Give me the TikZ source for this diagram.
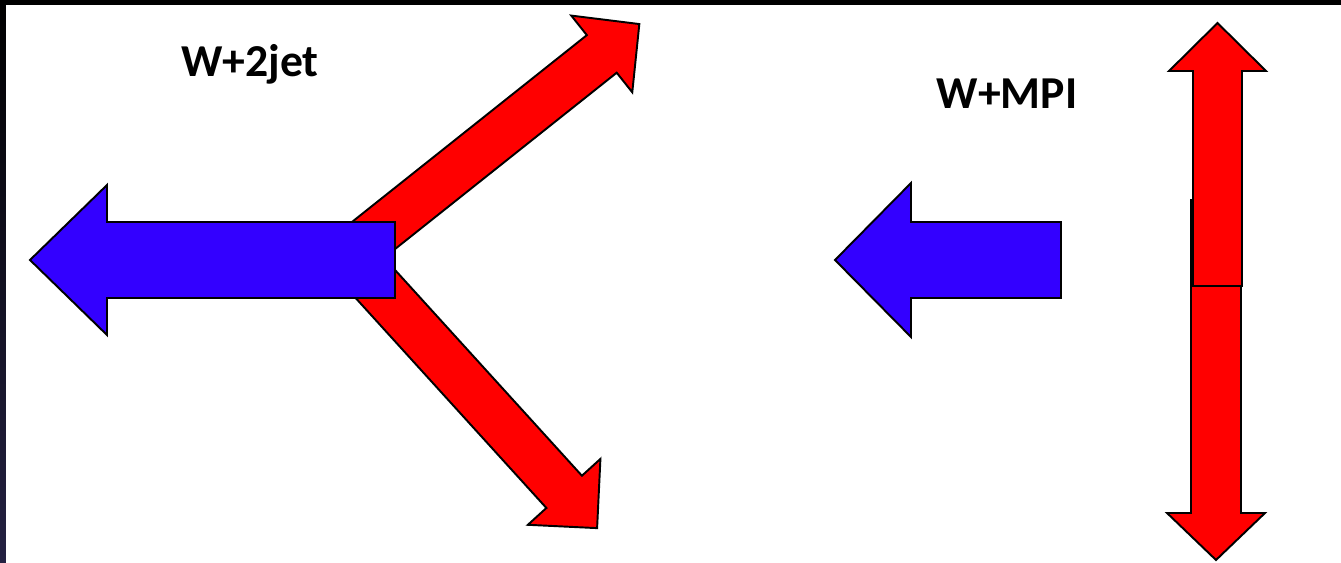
\documentclass[tikz,border=0pt]{standalone}
\usepackage{fontspec}
\newfontfamily\lblfont{Carlito}
\usetikzlibrary{calc}

\definecolor{arrowred}{RGB}{255,0,0}
\definecolor{arrowblue}{RGB}{51,0,255}
\definecolor{frameblue}{RGB}{36,33,66}

% block arrow along +x: style, length, shaft half width, head half width, head length
\newcommand{\blockarrow}[5]{%
  \draw[#1] (0,-#3) -- ({#2-#5},-#3) -- ({#2-#5},-#4) -- (#2,0)
    -- ({#2-#5},#4) -- ({#2-#5},#3) -- (0,#3) -- cycle;}

\tikzset{
  fat/.style={line width=1.1pt, line join=miter, draw=black},
  redarrow/.style={fat, fill=arrowred},
  bluearrow/.style={fat, fill=arrowblue},
  lbl/.style={font=\lblfont\bfseries\fontsize{26}{30}\selectfont, anchor=base, inner sep=0pt}
}

\begin{document}
\begin{tikzpicture}[x=0.02cm, y=-0.02cm]
  \useasboundingbox (0,0) rectangle (1341,563);
  % frame
  \fill[black] (0,0) rectangle (1341,5);
  \shade[top color=black, bottom color=frameblue] (0,0) rectangle (6,563);
  \fill[white] (6,5) rectangle (1341,563);

  % W+2jet: two jets from a common point, W recoiling to the left
  \coordinate (jc) at (349,255);
  \coordinate (wl) at (395,260);
  \blockarrow{redarrow, shift={(jc)}, rotate=38.5}{371}{24}{49}{48}
  \blockarrow{redarrow, shift={(jc)}, rotate=-47.75}{369}{24}{49}{49}
  \blockarrow{bluearrow, shift={(wl)}, rotate=180}{365}{38}{75}{77}
  \node[lbl] (t2jet) at (250,77) {W+2jet};

  % W+MPI: back-to-back pair, W alone
  \coordinate (wr) at (1061,260);
  \coordinate (mlo) at (1216,200);
  \coordinate (mup) at (1217.5,286);
  \blockarrow{redarrow, shift={(mlo)}, rotate=-90}{360}{25}{49}{47}
  \blockarrow{redarrow, shift={(mup)}, rotate=90}{263}{24.5}{48.5}{48}
  \blockarrow{bluearrow, shift={(wr)}, rotate=180}{226}{38}{77}{76}
  \node[lbl] (tmpi) at (1007,109) {W+MPI};
\end{tikzpicture}
\end{document}
